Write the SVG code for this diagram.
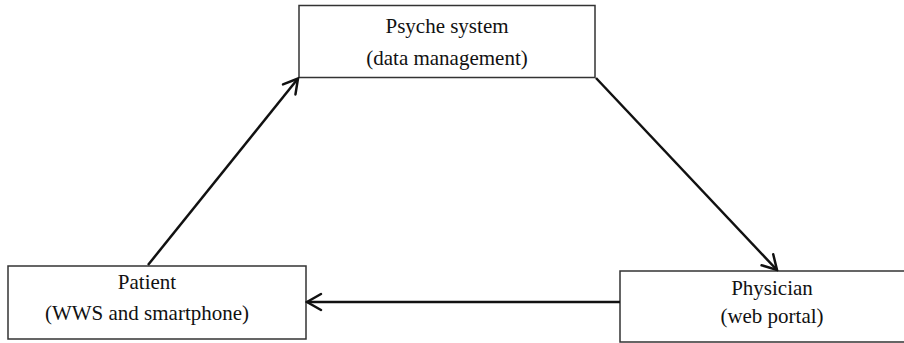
<svg xmlns="http://www.w3.org/2000/svg" width="904" height="343" viewBox="0 0 904 343">
<style>
.box{fill:#fff;stroke:#333;stroke-width:1.5}
.t{font-family:"Liberation Serif","DejaVu Serif","Times New Roman",serif;font-size:21px;fill:#111;text-anchor:middle}
.c{stroke:#111;stroke-width:2.5;fill:none}
</style>
<defs>
<marker id="ah" viewBox="-16 -10 18 20" refX="0" refY="0" markerWidth="18" markerHeight="20" markerUnits="userSpaceOnUse" orient="auto">
<path d="M-14,-8 L0,0 L-14,8" fill="none" stroke="#111" stroke-width="2.5" stroke-linecap="round"/>
</marker>
</defs>
<g id="psyche">
<rect class="box" x="299" y="5.5" width="296" height="72"/>
<text class="t" x="447" y="33">Psyche system</text>
<text class="t" x="447" y="65">(data management)</text>
</g>
<g id="patient">
<rect class="box" x="8" y="266" width="298" height="73"/>
<text class="t" x="147" y="289">Patient</text>
<text class="t" x="147" y="320">(WWS and smartphone)</text>
</g>
<g id="physician">
<path class="box" d="M906,271 L620,271 L620,342 L906,342"/>
<text class="t" x="772" y="295">Physician</text>
<text class="t" x="772" y="323">(web portal)</text>
</g>
<g id="connectors">
<line class="c" x1="148" y1="265" x2="298" y2="78.5" marker-end="url(#ah)"/>
<line class="c" x1="596" y1="78" x2="777" y2="270" marker-end="url(#ah)"/>
<line class="c" x1="620" y1="302" x2="307" y2="302" marker-end="url(#ah)"/>
</g>
</svg>
